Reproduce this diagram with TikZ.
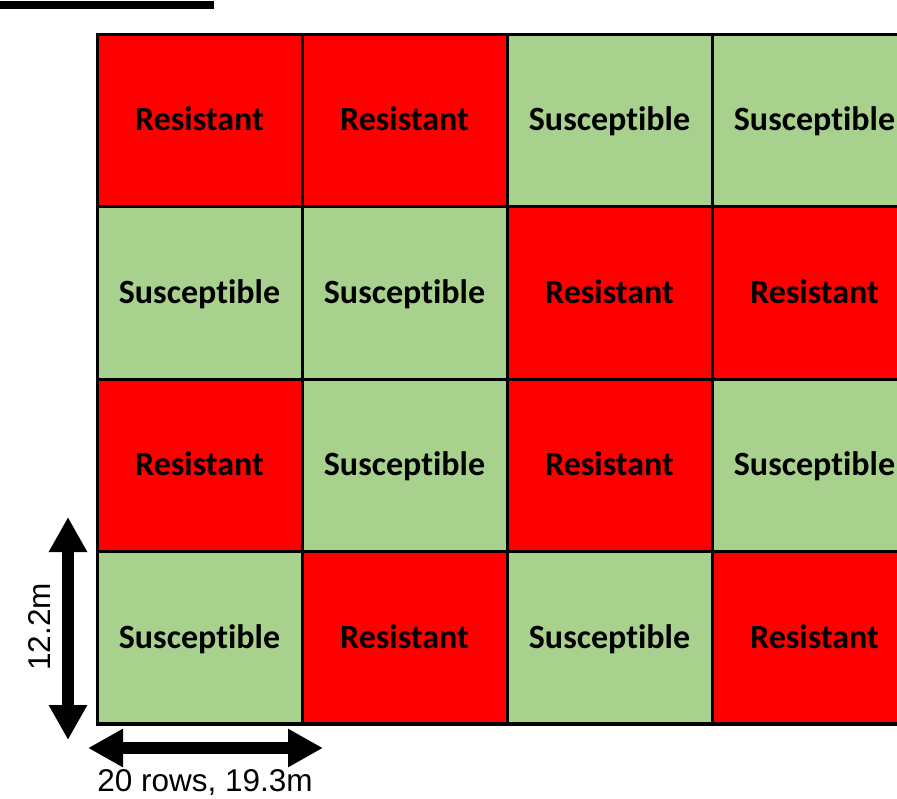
\documentclass[tikz,border=0pt]{standalone}
\usepackage{fontspec}
\setmainfont{Liberation Sans}
\newfontfamily\plotfont[Ligatures=NoCommon]{Carlito}
\usetikzlibrary{arrows.meta}
\definecolor{resred}{RGB}{255,0,0}
\definecolor{susgreen}{RGB}{169,209,142}

\begin{document}
\begin{tikzpicture}[x=1pt,y=-1pt,
		plot/.style={draw=black,line width=3pt,minimum width=205pt,minimum height=172.5pt,
			inner sep=0pt,outer sep=0pt,text height=21pt,text depth=0pt,
			font=\plotfont\bfseries\fontsize{34}{36}\selectfont},
		res/.style={plot,fill=resred},
		sus/.style={plot,fill=susgreen},
		dimarrow/.style={{Triangle[width=36pt,length=35pt]}-{Triangle[width=36pt,length=35pt]},line width=12pt},
		dimlabel/.style={font=\fontsize{31.5}{33}\selectfont,inner sep=0pt}]
	\useasboundingbox (0,0) rectangle (897,798);

	\fill (0,1) rectangle (214,9);

	% field plots, four rows of four
	\begin{scope}
		\clip (0,0) rectangle (897,798);
		\foreach \r/\c/\kind in {1/1/res,1/2/res,1/3/sus,1/4/sus,
				2/1/sus,2/2/sus,2/3/res,2/4/res,
				3/1/res,3/2/sus,3/3/res,3/4/sus,
				4/1/sus,4/2/res,4/3/sus,4/4/res}{%
				\node [\kind] (plot-\r-\c) at ({97+205*(\c-0.5)},{34+172.5*(\r-0.5)})
				{\ifnum\pdfstrcmp{\kind}{res}=0 Resistant\else Susceptible\fi};
			}
		\draw [line width=4pt] (plot-4-1.south west) -- (plot-4-4.south east);
	\end{scope}

	\coordinate (vtop) at (68,517);
	\coordinate (vbot) at (68,740);
	\coordinate (hleft) at (88,748);
	\coordinate (hright) at (323,748);
	\draw [dimarrow] (vtop) -- (vbot);
	\draw [dimarrow] (hleft) -- (hright);

	\node [dimlabel,rotate=90] (height) at (40,627) {12.2m};
	\node [dimlabel] (width) at (205,783) {20 rows, 19.3m};
\end{tikzpicture}
\end{document}
